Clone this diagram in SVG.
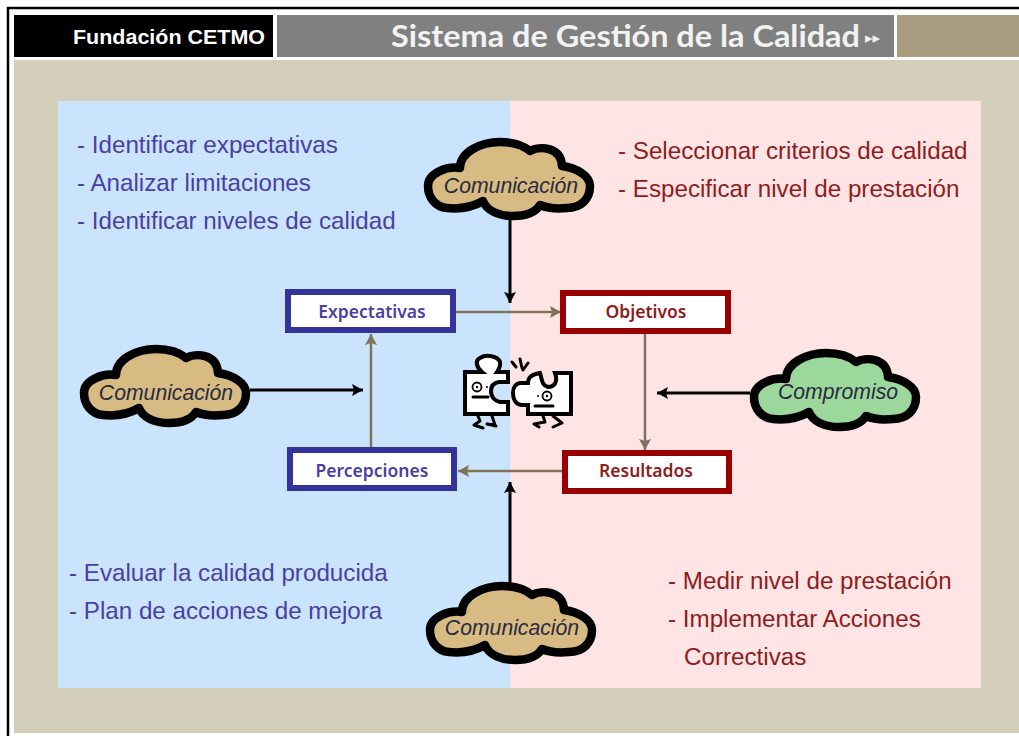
<svg xmlns="http://www.w3.org/2000/svg" width="1019" height="736" viewBox="0 0 1019 736">
<style>
.l{font-family:"Liberation Sans",Arial,sans-serif;font-size:24.2px}
.b{fill:#4b3fa3}.r{fill:#8f1c1c}
.cl{stroke:#000;stroke-width:8.5;stroke-linejoin:round}
.ct{font-family:"Liberation Sans",Arial,sans-serif;font-style:italic;font-size:21.2px;fill:#2a2a40;text-anchor:middle}
.box{fill:#fff;stroke-width:6}
.bt{font-family:"Noto Sans",sans-serif;font-weight:600;font-size:17.5px;text-anchor:middle}
.g{fill:none;stroke:#7f7359;stroke-width:2.5}
.k{fill:none;stroke:#000;stroke-width:3}
.pz{fill:#fff;stroke:#000;stroke-width:4;stroke-linejoin:miter}
.ln{fill:none;stroke:#000;stroke-width:3;stroke-linecap:round;stroke-linejoin:round}
</style>
<defs>
<path id="cloud" d="M-81 7C-81 -6 -62 -13 -49 -11C-49 -27 -28 -37 -9 -37C4 -37 14 -34 21 -28C30 -33 52 -33 53 -13C68 -11 81 -3 81 7C81 20 72 29 58 29C48 30 38 29 31 26C26 34 15 37 4 37C-10 37 -22 32 -26 22C-38 29 -52 30 -62 29C-74 28 -81 18 -81 7Z"/>
<marker id="ak" markerUnits="userSpaceOnUse" markerWidth="13" markerHeight="13" refX="11" refY="6" orient="auto"><path d="M0 0L11 6L0 12L2 6Z" fill="#000"/></marker>
<marker id="ag" markerUnits="userSpaceOnUse" markerWidth="13" markerHeight="13" refX="11" refY="6" orient="auto"><path d="M0 0L11 6L0 12L2 6Z" fill="#7f7359"/></marker>
</defs>
<rect width="1019" height="736" fill="#fff"/>
<path d="M8 736V8H1019" fill="none" stroke="#000" stroke-width="2.5"/>
<rect x="14" y="15" width="259" height="42" fill="#000"/>
<rect x="277" y="15" width="617" height="42" fill="#808080"/>
<rect x="897" y="15" width="122" height="42" fill="#a99d7f"/>
<rect x="14" y="60" width="1005" height="673" fill="#d4cfba"/>
<text x="73" y="44" font-family="Liberation Sans,Arial,sans-serif" font-weight="700" font-size="20.5" fill="#fff" textLength="192" lengthAdjust="spacingAndGlyphs">Fundación CETMO</text>
<text x="391" y="47" font-family="Lato,sans-serif" font-weight="700" font-size="30" fill="#f2f2f2" textLength="469" lengthAdjust="spacingAndGlyphs">Sistema de Gestión de la Calidad</text>
<text x="865" y="43" font-family="DejaVu Sans,sans-serif" font-size="15" fill="#f2f2f2">▸▸</text>
<rect x="58" y="101" width="452" height="587" fill="#cae4fd"/>
<rect x="510" y="101" width="471" height="587" fill="#fee4e4"/>
<g class="l b">
<text x="77" y="153">- Identificar expectativas</text>
<text x="77" y="191">- Analizar limitaciones</text>
<text x="77" y="229">- Identificar niveles de calidad</text>
<text x="69" y="581">- Evaluar la calidad producida</text>
<text x="69" y="619">- Plan de acciones de mejora</text>
</g>
<g class="l r">
<text x="618" y="159">- Seleccionar criterios de calidad</text>
<text x="618" y="197">- Especificar nivel de prestación</text>
<text x="668" y="589">- Medir nivel de prestación</text>
<text x="668" y="627">- Implementar Acciones</text>
<text x="684" y="665">Correctivas</text>
</g>
<g id="connectors">
<path class="k" d="M510 218V303" marker-end="url(#ak)"/>
<path class="k" d="M250 390H363" marker-end="url(#ak)"/>
<path class="k" d="M750 393H657" marker-end="url(#ak)"/>
<path class="k" d="M510 583V482" marker-end="url(#ak)"/>
<path class="g" d="M456 312H561" marker-end="url(#ag)"/>
<path class="g" d="M645 334V450" marker-end="url(#ag)"/>
<path class="g" d="M562 471H458" marker-end="url(#ag)"/>
<path class="g" d="M371 447V334" marker-end="url(#ag)"/>
</g>
<g id="cloud-top"><use href="#cloud" class="cl" fill="#d7bb83" transform="translate(509 179)"/><text class="ct" x="511" y="193">Comunicación</text></g>
<g id="cloud-left"><use href="#cloud" class="cl" fill="#d7bb83" transform="translate(165 386)"/><text class="ct" x="166" y="400">Comunicación</text></g>
<g id="cloud-bottom"><use href="#cloud" class="cl" fill="#d7bb83" transform="translate(511 623)"/><text class="ct" x="512" y="635">Comunicación</text></g>
<g id="cloud-right"><use href="#cloud" class="cl" fill="#9cd89c" transform="translate(835 390)"/><text class="ct" x="838" y="399">Compromiso</text></g>
<g id="expectativas"><rect class="box" x="288" y="292" width="165" height="38" stroke="#333399"/><text class="bt b" x="372" y="318">Expectativas</text></g>
<g id="objetivos"><rect class="box" x="563" y="293" width="165" height="38" stroke="#990000"/><text class="bt r" x="646" y="318">Objetivos</text></g>
<g id="percepciones"><rect class="box" x="290" y="450" width="164" height="38" stroke="#333399"/><text class="bt b" x="372" y="477">Percepciones</text></g>
<g id="resultados"><rect class="box" x="565" y="453" width="164" height="38" stroke="#990000"/><text class="bt r" x="646" y="477">Resultados</text></g>
<g id="puzzle">
<path class="pz" d="M465 372H482C476 367 475 360 480 358C486 354 498 356 500 362C501 366 499 369 497 372H508V382H499C493 383 491 387 491 391C491 397 495 401 500 402H508V414H465Z"/>
<path class="pz" d="M528 414V405H521C515 404 513 398 513 393C513 387 516 383 521 383H528C528 378 530 375 540 373C542 378 541 385 548 387C555 387 558 381 555 373H571V414Z"/>
<circle cx="477" cy="387" r="4.5" fill="none" stroke="#000" stroke-width="1.8"/><circle cx="477" cy="387" r="1.2" fill="#000"/><circle cx="487" cy="387" r="1" fill="#000"/>
<circle cx="547" cy="396" r="4.5" fill="none" stroke="#000" stroke-width="1.8"/><circle cx="547" cy="396" r="1.2" fill="#000"/><circle cx="538" cy="396" r="1" fill="#000"/>
<path class="ln" d="M473 397H488M535 406H553M478 416L480 421L474 425L483 428M492 416L495 425L487 424L496 426M543 416L545 422L534 424L539 427M553 416L562 423L553 427M512 362L516 367M520 359L522 368M528 363L523 370"/>
</g>
</svg>
